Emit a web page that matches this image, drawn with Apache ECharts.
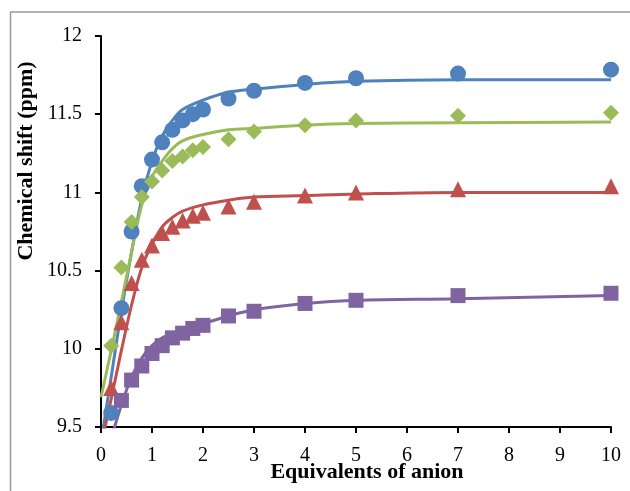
<!DOCTYPE html>
<html>
<head>
<meta charset="utf-8">
<script src="https://cdn.jsdelivr.net/npm/echarts@6/dist/echarts.min.js"></script>
<style>
  html, body { margin: 0; padding: 0; background: #fff; }
  #chart { width: 630px; height: 491px; }
</style>
</head>
<body>
<div id="chart"></div>
<script>
// Titration points: equivalents of anion added
const equivalents = [0.2, 0.4, 0.6, 0.8, 1.0, 1.2, 1.4, 1.6, 1.8, 2.0, 2.5, 3, 4, 5, 7, 10];

// Observed chemical shifts (ppm) for each proton
const shiftCircle   = [9.59, 10.26, 10.75, 11.04, 11.21, 11.32, 11.40, 11.46, 11.50, 11.53, 11.60, 11.65, 11.70, 11.73, 11.76, 11.785];
const shiftDiamond  = [10.02, 10.52, 10.81, 10.97, 11.07, 11.14, 11.20, 11.23, 11.27, 11.29, 11.34, 11.39, 11.43, 11.46, 11.49, 11.51];
const shiftTriangle = [9.75, 10.17, 10.42, 10.57, 10.66, 10.74, 10.78, 10.82, 10.85, 10.87, 10.91, 10.94, 10.98, 11.00, 11.02, 11.04];
const shiftSquare   = [null, 9.67, 9.80, 9.89, 9.97, 10.02, 10.07, 10.10, 10.13, 10.15, 10.21, 10.24, 10.29, 10.31, 10.34, 10.355];

// Fitted binding curves
const fitX        = [0, 0.2, 0.4, 0.6, 0.8, 1.0, 1.2, 1.4, 1.6, 2.0, 2.5, 3, 4, 5, 7, 10];
const fitCircle   = [9.40, 9.82, 10.24, 10.62, 10.96, 11.20, 11.36, 11.46, 11.53, 11.59, 11.64, 11.66, 11.69, 11.71, 11.72, 11.72];
const fitDiamond  = [9.69, 9.99, 10.30, 10.62, 10.92, 11.10, 11.20, 11.28, 11.33, 11.37, 11.40, 11.41, 11.43, 11.44, 11.445, 11.45];
const fitTriangle = [9.38, 9.68, 9.99, 10.28, 10.52, 10.67, 10.78, 10.84, 10.88, 10.92, 10.95, 10.97, 10.98, 10.99, 11.00, 11.00];
const fitSquare   = [9.22, 9.43, 9.64, 9.82, 9.94, 10.02, 10.07, 10.10, 10.12, 10.16, 10.21, 10.25, 10.29, 10.31, 10.32, 10.34];

const xTicks = { min: 0, max: 10, step: 1 };
const yTicks = { min: 9.5, max: 12, step: 0.5 };

const colors = { circle: '#4F81BD', diamond: '#9BBB59', triangle: '#C0504D', square: '#8064A2' };

function pairs(xs, ys) {
  const out = [];
  xs.forEach((x, i) => { if (ys[i] !== null) out.push([x, ys[i]]); });
  return out;
}

function fitSeries(ys, color) {
  return {
    type: 'line', data: pairs(fitX, ys), showSymbol: false, symbol: 'none',
    smooth: 0.35, clip: true, z: 2,
    lineStyle: { color: color, width: 3 }
  };
}

function pointSeries(ys, color, symbol, size) {
  return {
    type: 'scatter', data: pairs(equivalents, ys), symbol: symbol, symbolSize: size,
    clip: true, z: 3, itemStyle: { color: color, opacity: 1 }
  };
}

const chart = echarts.init(document.getElementById('chart'), null, { renderer: 'canvas' });

const tickFont = { fontFamily: 'Liberation Serif', fontSize: 20, color: '#000' };

chart.setOption({
  animation: false,
  backgroundColor: '#fff',
  grid: { left: 101, top: 36, width: 510, height: 391, containLabel: false },
  xAxis: {
    type: 'value', min: xTicks.min, max: xTicks.max, interval: xTicks.step,
    axisLine: { lineStyle: { color: '#000', width: 2 } },
    axisTick: { show: true, length: 6, inside: false, lineStyle: { color: '#000', width: 2 } },
    axisLabel: Object.assign({ margin: 19 }, tickFont),
    splitLine: { show: false }
  },
  yAxis: {
    type: 'value', min: yTicks.min, max: yTicks.max, interval: yTicks.step,
    axisLine: { show: true, lineStyle: { color: '#000', width: 2 } },
    axisTick: { show: true, length: 6, inside: false, lineStyle: { color: '#000', width: 2 } },
    axisLabel: Object.assign({ margin: 19 }, tickFont),
    splitLine: { show: false }
  },
  graphic: [
    {
      type: 'rect', silent: true, z: 0,
      shape: { x: 10.5, y: 12, width: 700, height: 600 },
      style: { fill: 'none', stroke: '#9a9a9a', lineWidth: 1.5 }
    },
    {
      type: 'text', z: 10, x: 367, y: 472,
      style: {
        text: 'Equivalents of anion', fontFamily: 'Liberation Serif', fontWeight: 'bold',
        fontSize: 22, fill: '#000', align: 'center', verticalAlign: 'middle'
      }
    },
    {
      type: 'text', z: 10, x: 26, y: 161, rotation: Math.PI / 2,
      style: {
        text: 'Chemical shift (ppm)', fontFamily: 'Liberation Serif', fontWeight: 'bold',
        fontSize: 22, fill: '#000', align: 'center', verticalAlign: 'middle'
      }
    }
  ],
  series: [
    fitSeries(fitCircle, colors.circle),
    fitSeries(fitDiamond, colors.diamond),
    fitSeries(fitTriangle, colors.triangle),
    fitSeries(fitSquare, colors.square),
    pointSeries(shiftCircle, colors.circle, 'circle', 16),
    pointSeries(shiftDiamond, colors.diamond, 'diamond', 16),
    pointSeries(shiftTriangle, colors.triangle, 'triangle', 16),
    pointSeries(shiftSquare, colors.square, 'rect', 15)
  ]
});
</script>
</body>
</html>
